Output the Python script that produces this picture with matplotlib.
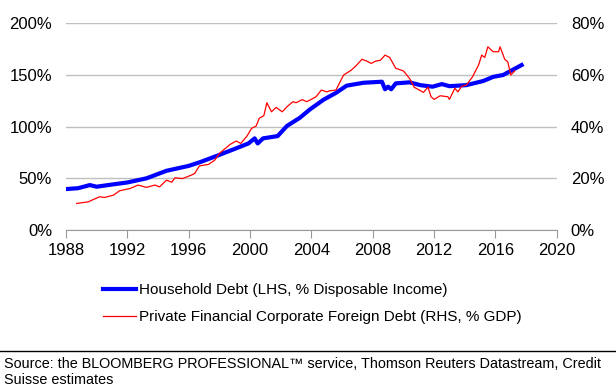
import matplotlib
matplotlib.use("Agg")
import matplotlib.pyplot as plt
from matplotlib.ticker import FuncFormatter

# Household debt, % of disposable income (left axis)
hh_years = [1988.0, 1988.8, 1989.56, 1990.0, 1991.0, 1992.0, 1993.25, 1994.56, 1996.0,
            1996.7, 1997.8, 1999.1, 1999.9, 2000.3, 2000.5, 2000.85, 2001.8, 2002.4,
            2003.25, 2003.9, 2004.8, 2005.6, 2006.3, 2007.4, 2008.6, 2008.8, 2009.0,
            2009.2, 2009.5, 2010.4, 2011.1, 2011.9, 2012.5, 2013.0, 2014.1, 2015.2,
            2015.85, 2016.5, 2017.1, 2017.7]
hh_debt = [39.6, 40.5, 43.5, 41.9, 44.0, 46.0, 50.0, 57.3, 62.0,
           65.4, 71.5, 79.0, 83.7, 88.6, 83.7, 88.6, 90.8, 100.5,
           108.5, 116.5, 126.0, 132.5, 139.5, 142.3, 143.3, 136.0, 138.5,
           136.0, 141.7, 142.7, 140.0, 138.5, 141.0, 139.0, 140.0, 144.0,
           148.0, 149.8, 154.6, 159.4]

# Private financial corporate foreign debt, % of GDP (right axis)
fx_years = [1988.7, 1989.45, 1990.2, 1990.5, 1991.1, 1991.5, 1992.2, 1992.7, 1993.25,
            1993.8, 1994.1, 1994.56, 1994.9, 1995.1, 1995.6, 1996.2, 1996.4, 1996.7,
            1997.3, 1997.7, 1998.0, 1998.7, 1999.1, 1999.4, 1999.8, 2000.1, 2000.4,
            2000.6, 2000.9, 2001.1, 2001.4, 2001.7, 2002.1, 2002.4, 2002.8, 2003.0,
            2003.4, 2003.7, 2004.3, 2004.65, 2005.0, 2005.2, 2005.6, 2006.1, 2006.6,
            2006.9, 2007.3, 2007.6, 2007.9, 2008.2, 2008.5, 2008.8, 2009.1, 2009.5,
            2010.0, 2010.4, 2010.7, 2011.3, 2011.6, 2011.8, 2012.0, 2012.4, 2012.9,
            2013.0, 2013.35, 2013.55, 2013.8, 2014.1, 2014.5, 2014.9, 2015.1, 2015.3,
            2015.5, 2015.85, 2016.2, 2016.3, 2016.6, 2016.8, 2017.0, 2017.25]
fx_debt = [10.3, 10.9, 12.9, 12.6, 13.5, 15.2, 16.1, 17.4, 16.5,
           17.4, 16.7, 19.3, 18.5, 20.2, 19.9, 21.3, 21.9, 24.8,
           25.4, 27.0, 29.6, 33.1, 34.4, 33.5, 36.3, 39.3, 40.2,
           43.2, 44.2, 49.2, 45.7, 47.4, 45.7, 47.6, 49.6, 49.2,
           50.4, 49.6, 51.5, 54.1, 53.4, 53.8, 54.1, 59.9, 61.8,
           63.4, 66.0, 65.3, 64.4, 65.3, 65.6, 67.6, 66.7, 62.5,
           61.5, 58.6, 55.2, 53.2, 55.2, 51.5, 50.5, 51.9, 51.5,
           50.5, 54.8, 53.4, 55.6, 56.0, 59.2, 63.8, 67.6, 66.7,
           70.8, 68.9, 68.9, 70.8, 66.0, 65.0, 59.9, 61.5]

x_ticks = [1988, 1992, 1996, 2000, 2004, 2008, 2012, 2016, 2020]

plt.rcParams["font.family"] = ["Liberation Sans", "DejaVu Sans"]

fig = plt.figure(figsize=(6.16, 3.9), dpi=100)
ax = fig.add_axes([0.107, 0.41, 0.797, 0.531])
ax2 = ax.twinx()

ax.plot(hh_years, hh_debt, color="#0000ff", linewidth=3.0,
        label="Household Debt (LHS, % Disposable Income)", zorder=3)
ax2.plot(fx_years, fx_debt, color="#ff0000", linewidth=0.9,
         label="Private Financial Corporate Foreign Debt (RHS, % GDP)", zorder=2)

ax.set_xlim(1988, 2020)
ax.set_ylim(0, 200)
ax2.set_ylim(0, 80)
ax.set_xticks(x_ticks)
ax.set_yticks([0, 50, 100, 150, 200])
ax2.set_yticks([0, 20, 40, 60, 80])
pct = FuncFormatter(lambda v, p: f"{v:.0f}%")
ax.yaxis.set_major_formatter(pct)
ax2.yaxis.set_major_formatter(pct)

ax.grid(axis="y", color="#bfbfbf", linewidth=1.0)
ax.set_axisbelow(True)
for a in (ax, ax2):
    for s in ("top", "left", "right"):
        a.spines[s].set_visible(False)
    a.spines["bottom"].set_color("#999999")
ax2.spines["bottom"].set_visible(False)

ax.tick_params(axis="x", direction="out", length=6, color="#999999",
               labelsize=12, pad=3)
ax.tick_params(axis="y", length=0, labelsize=12, pad=10)
ax2.tick_params(axis="y", length=0, labelsize=12, pad=10)

h1, l1 = ax.get_legend_handles_labels()
h2, l2 = ax2.get_legend_handles_labels()
fig.legend(h1 + h2, l1 + l2, loc="upper left", bbox_to_anchor=(0.158, 0.29),
           frameon=False, fontsize=11, handlelength=2.15, handletextpad=0.2,
           labelspacing=0.85, borderaxespad=0)

fig.add_artist(plt.Line2D([0, 1], [1 - 351 / 390, 1 - 351 / 390],
                          transform=fig.transFigure, color="black", linewidth=1.0))
fig.text(0.007, 1 - 357 / 390,
         "Source: the BLOOMBERG PROFESSIONAL\u2122 service, Thomson Reuters Datastream, Credit\nSuisse estimates",
         fontsize=10.4, va="top", linespacing=1.15)

fig.savefig("out.png", dpi=100)
